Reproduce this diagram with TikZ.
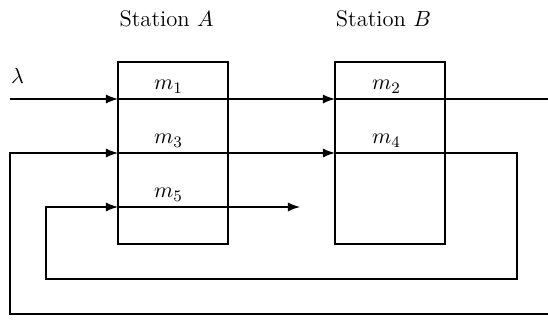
\documentclass[tikz,border=0pt]{standalone}
\usetikzlibrary{arrows.meta}
\begin{document}
\begin{tikzpicture}[x=0.5pt,y=-0.5pt,
  line width=0.65pt,
  font=\fontsize{11.3}{13.5}\selectfont,
  station/.style={draw,line width=0.65pt,minimum width=55pt,minimum height=91pt,inner sep=0pt},
  flow/.style={-{Latex[length=6pt,width=4.5pt]}},
  lbl/.style={inner sep=0pt,anchor=base}]
\useasboundingbox (0,0) rectangle (548,320);
% stations
\node[station] (A) at (173,153) {};
\node[station] (B) at (390,153) {};
\node[lbl] (tA) at (166.5,27) {Station $A$};
\node[lbl] (tB) at (383.5,27) {Station $B$};
% entry points on the station edges
\coordinate (a1) at (118,99);
\coordinate (a3) at (118,153);
\coordinate (a5) at (118,207);
\coordinate (b2) at (335,99);
\coordinate (b4) at (335,153);
% free ends and corners
\coordinate (in1) at (10,99);
\coordinate (out1) at (548,99);
\coordinate (end5) at (300,207);
\coordinate (r4) at (517,153);
\coordinate (r4b) at (517,279);
\coordinate (l5b) at (46,279);
\coordinate (l5) at (46,207);
\coordinate (outb) at (548,314);
\coordinate (l3b) at (10,314);
\coordinate (l3) at (10,153);
% class labels
\node[lbl] (m1) at (168.5,90) {$m_1$};
\node[lbl] (m3) at (168.5,144) {$m_3$};
\node[lbl] (m5) at (168.5,198) {$m_5$};
\node[lbl] (m2) at (386.5,90) {$m_2$};
\node[lbl] (m4) at (386.5,144) {$m_4$};
\node[lbl] (lam) at (17.5,84) {$\lambda$};
% routes
\draw[flow] (in1) -- (a1);
\draw[flow] (a1) -- (b2);
\draw (b2) -- (out1);
\draw[flow] (outb) -- (l3b) -- (l3) -- (a3);
\draw[flow] (a3) -- (b4);
\draw[flow] (b4) -- (r4) -- (r4b) -- (l5b) -- (l5) -- (a5);
\draw[flow] (a5) -- (end5);
\end{tikzpicture}
\end{document}
